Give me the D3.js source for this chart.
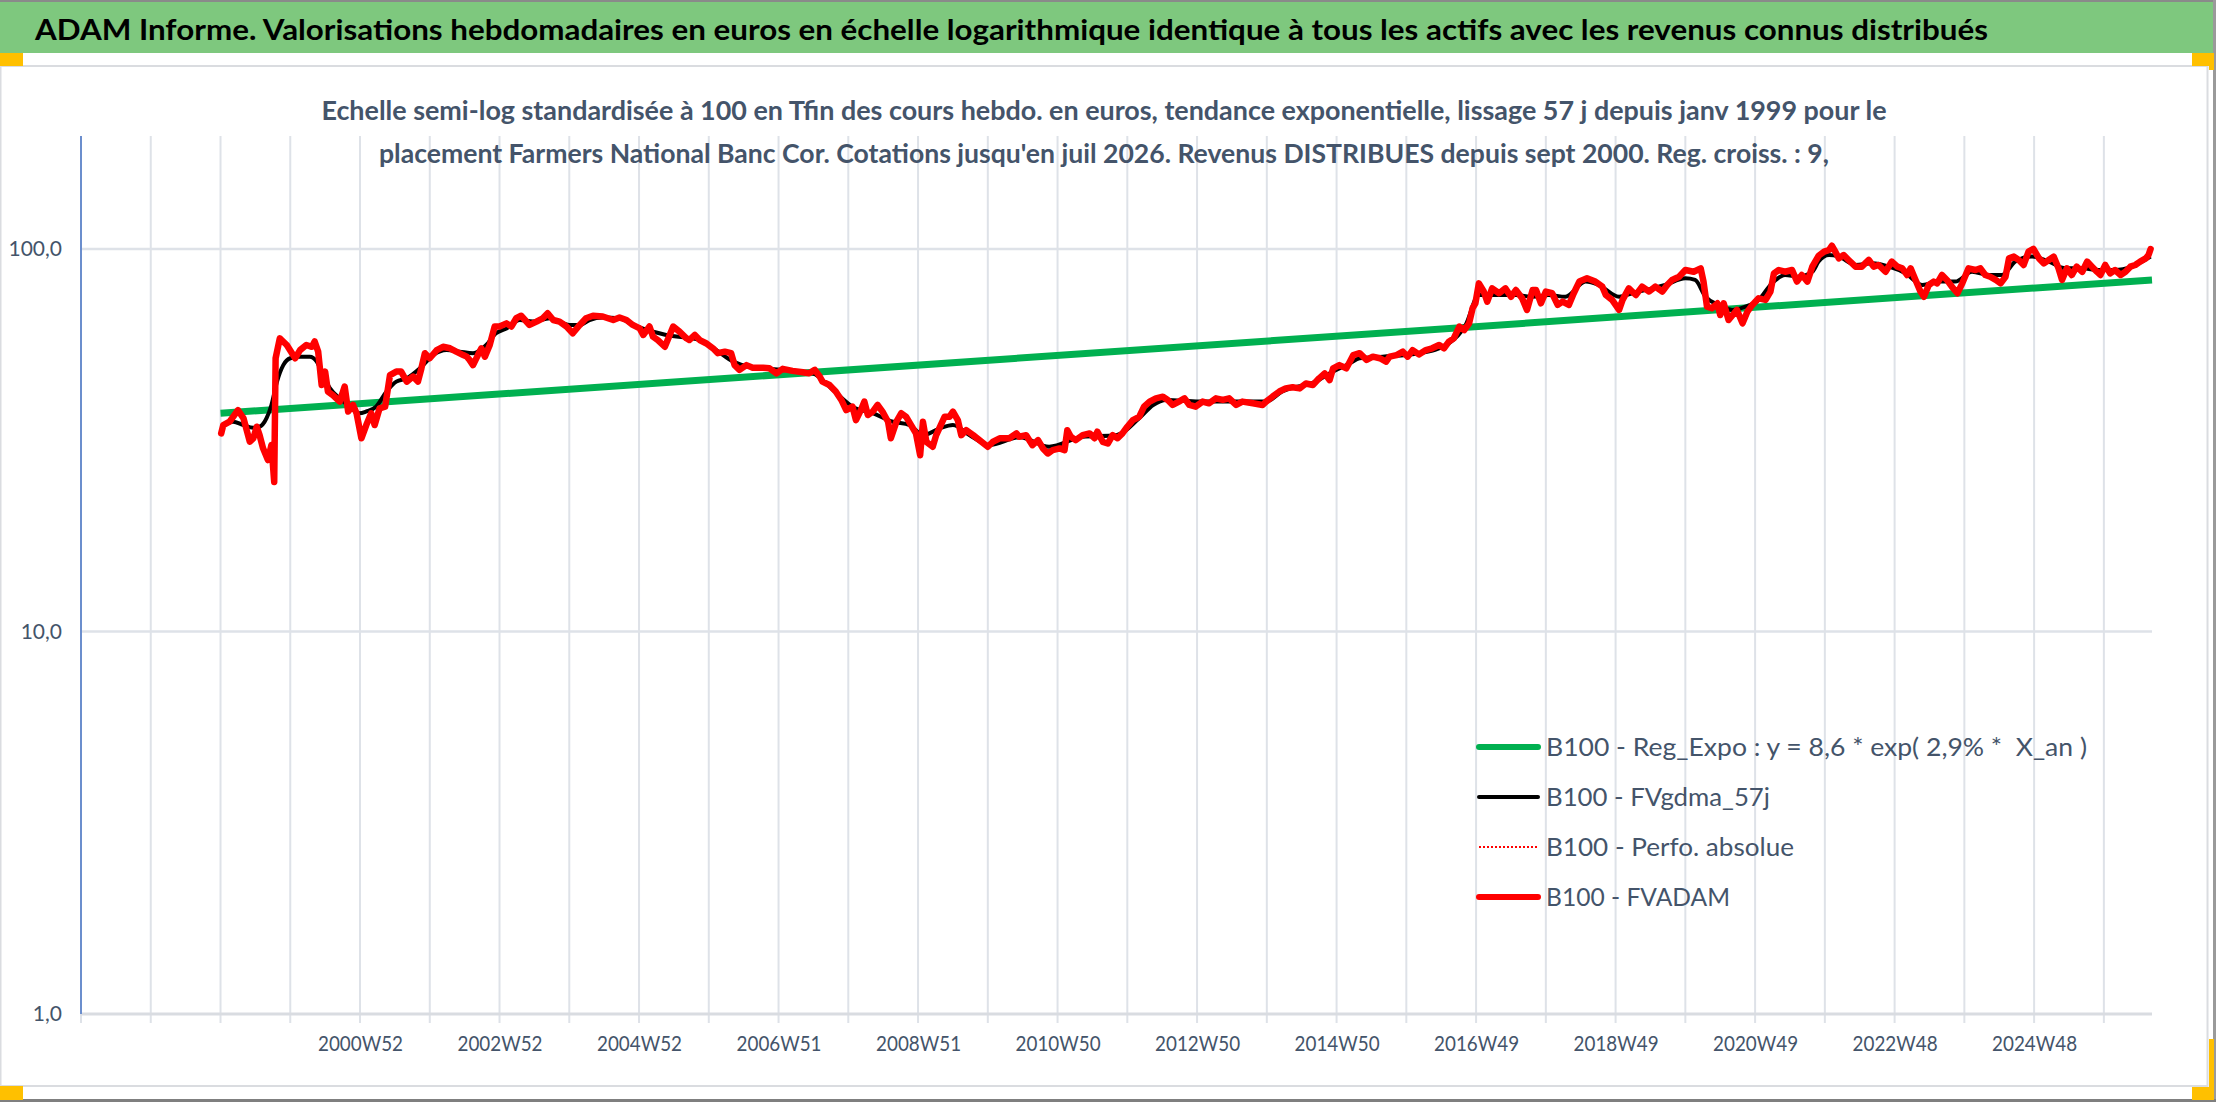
<!DOCTYPE html>
<html><head><meta charset="utf-8">
<script src="https://cdn.jsdelivr.net/npm/d3@7"></script>
<style>
body{margin:0;background:#fff;}
svg{display:block;font-family:Lato,"Noto Sans",sans-serif;}
</style>
</head><body>
<svg id="c" width="2216" height="1102"></svg>
<script>
const titleText = "ADAM Informe. Valorisations hebdomadaires en euros en échelle logarithmique identique à tous les actifs avec les revenus connus distribués";
const subtitleLines = [
  "Echelle semi-log standardisée à 100 en Tfin des cours hebdo. en euros, tendance exponentielle, lissage 57 j depuis janv 1999 pour le",
  "placement Farmers National Banc Cor. Cotations jusqu'en juil 2026. Revenus DISTRIBUES depuis sept 2000. Reg. croiss. : 9,"
];
const yTickValues = [1, 10, 100];
const yTickLabels = ["1,0", "10,0", "100,0"];
const gridYears = [1997,1998,1999,2000,2001,2002,2003,2004,2005,2006,2007,2008,2009,2010,2011,2012,2013,2014,2015,2016,2017,2018,2019,2020,2021,2022,2023,2024,2025,2026];
const xTickYears = [2001,2003,2005,2007,2009,2011,2013,2015,2017,2019,2021,2023,2025];
const xTickLabels = ["2000W52","2002W52","2004W52","2006W51","2008W51","2010W50","2012W50","2014W50","2016W49","2018W49","2020W49","2022W48","2024W48"];
const legendLabels = [
  "B100 - Reg_Expo : y = 8,6 * exp( 2,9% *  X_an )",
  "B100 - FVgdma_57j",
  "B100 - Perfo. absolue",
  "B100 - FVADAM"
];

// Regression (straight in log space): start / end
const regWeeks = [1999.0, 2026.69];
const regValues = [37.2, 83.0];

// Smoothed series FVgdma_57j
const fvgdmaWeeks = [1999.01,1999.18,1999.33,1999.47,1999.56,1999.66,1999.73,1999.81,1999.90,2000.00,2000.14,2000.28,2000.38,2000.45,2000.57,2000.71,2000.85,2000.99,2001.09,2001.23,2001.38,2001.52,2001.67,2001.86,2002.05,2002.24,2002.43,2002.62,2002.81,2002.95,2003.10,2003.29,2003.48,2003.72,2003.86,2004.00,2004.15,2004.29,2004.48,2004.72,2004.91,2005.39,2005.87,2006.10,2006.35,2006.58,2007.06,2007.49,2007.78,2008.06,2008.35,2008.64,2008.88,2009.07,2009.31,2009.50,2009.74,2010.02,2010.46,2010.88,2011.36,2011.84,2012.17,2012.37,2012.56,2013.03,2013.51,2013.99,2014.22,2014.70,2014.95,2015.19,2015.33,2015.66,2016.19,2016.61,2016.85,2017.04,2017.23,2017.57,2017.81,2018.04,2018.28,2018.57,2018.76,2019.05,2019.24,2019.71,2020.00,2020.14,2020.29,2020.48,2020.67,2020.86,2021.05,2021.24,2021.43,2021.62,2021.82,2021.91,2022.06,2022.20,2022.44,2022.68,2022.92,2023.16,2023.40,2023.64,2023.87,2024.11,2024.35,2024.54,2024.73,2024.97,2025.21,2025.45,2025.69,2025.93,2026.16,2026.40,2026.67];
const fvgdmaValues = [34.3,35.35,34.65,34.1,34.3,36.1,39.1,45.0,49.7,51.8,52.3,52.3,50.75,47.8,43.2,40.7,38.7,37.2,37.6,38.7,42.4,45.0,45.9,48.75,52.8,54.4,53.9,53.4,56.1,60.2,62.0,65.2,64.6,65.9,64.6,63.3,63.3,65.2,66.2,65.9,63.3,59.6,57.8,54.5,50.75,49.2,48.3,47.3,42.8,38.7,37.2,35.35,34.65,32.6,33.96,34.65,32.6,30.7,32.2,30.4,32.3,32.6,36.1,39.1,40.3,39.9,39.9,39.9,42.4,45.0,47.8,50.2,51.8,52.3,53.4,56.7,63.3,75.8,75.8,75.8,75.0,75.8,75.0,82.2,80.5,75.0,76.6,80.5,83.8,83.0,75.0,71.4,69.3,70.7,73.6,81.3,85.5,84.6,87.2,92.7,96.4,95.5,90.8,91.7,89.9,86.3,80.5,82.2,82.2,87.2,85.5,85.5,92.7,95.5,92.7,89.0,89.0,88.1,88.1,89.9,95.5];

// FVADAM series
const fvadamWeeks = [1999.01,1999.04,1999.13,1999.25,1999.33,1999.42,1999.47,1999.52,1999.56,1999.61,1999.68,1999.73,1999.77,1999.79,1999.85,1999.95,2000.07,2000.14,2000.23,2000.31,2000.35,2000.40,2000.45,2000.50,2000.54,2000.61,2000.71,2000.78,2000.83,2000.90,2000.95,2001.02,2001.09,2001.16,2001.21,2001.28,2001.36,2001.43,2001.52,2001.59,2001.67,2001.76,2001.83,2001.88,2001.93,2002.00,2002.10,2002.19,2002.29,2002.38,2002.48,2002.53,2002.57,2002.62,2002.69,2002.74,2002.79,2002.86,2002.93,2003.00,2003.10,2003.17,2003.24,2003.31,2003.43,2003.53,2003.62,2003.69,2003.77,2003.86,2003.96,2004.05,2004.15,2004.24,2004.34,2004.48,2004.63,2004.72,
2004.82,2004.91,2005.01,2005.06,2005.15,2005.20,2005.27,2005.37,2005.44,2005.49,2005.58,2005.68,2005.72,2005.80,2005.87,2005.96,2006.06,2006.13,2006.23,2006.32,2006.37,2006.44,2006.54,2006.63,2006.78,2006.87,2006.97,2007.06,2007.20,2007.35,2007.44,2007.52,2007.59,2007.63,2007.73,2007.82,2007.90,2007.97,2008.06,2008.11,2008.18,2008.23,2008.28,2008.35,2008.42,2008.49,2008.57,2008.61,2008.69,2008.76,2008.83,2008.90,2008.97,2009.03,2009.07,2009.12,2009.21,2009.26,2009.38,2009.45,2009.50,2009.57,2009.62,2009.69,2009.79,2009.88,2010.00,2010.07,2010.17,2010.31,2010.41,
2010.45,2010.55,2010.64,2010.72,2010.79,2010.86,2010.93,2011.03,2011.10,2011.14,2011.19,2011.26,2011.36,2011.46,2011.53,2011.57,2011.65,2011.72,2011.79,2011.86,2011.93,2012.00,2012.08,2012.17,2012.24,2012.32,2012.41,2012.51,2012.58,2012.65,2012.74,2012.82,2012.89,2012.98,2013.08,2013.17,2013.27,2013.37,2013.46,2013.56,2013.65,2013.80,2013.94,2013.99,2014.08,2014.18,2014.27,2014.37,2014.47,2014.56,2014.66,2014.75,2014.83,2014.90,2014.95,2015.04,2015.14,2015.19,2015.24,2015.33,2015.43,2015.52,2015.62,2015.71,2015.76,2015.86,2015.95,2016.02,2016.09,2016.18,
2016.28,2016.37,2016.47,2016.54,2016.61,2016.68,2016.76,2016.83,2016.90,2016.95,2016.99,2017.04,2017.11,2017.16,2017.23,2017.33,2017.42,2017.50,2017.57,2017.66,2017.73,2017.81,2017.86,2017.93,2018.00,2018.09,2018.17,2018.24,2018.33,2018.40,2018.48,2018.59,2018.71,2018.81,2018.86,2018.95,2019.05,2019.10,2019.19,2019.29,2019.38,2019.48,2019.57,2019.67,2019.74,2019.81,2019.91,2020.00,2020.12,2020.22,2020.26,2020.31,2020.38,2020.46,2020.50,2020.55,2020.62,2020.70,2020.74,2020.82,2020.89,2020.96,2021.05,2021.15,2021.22,2021.27,2021.34,2021.43,2021.53,2021.60,2021.67,2021.75,2021.82,2021.91,
2021.99,2022.06,2022.10,2022.15,2022.20,2022.27,2022.34,2022.44,2022.53,2022.63,2022.70,2022.77,2022.87,2022.96,2023.04,2023.11,2023.18,2023.23,2023.30,2023.37,2023.42,2023.49,2023.56,2023.61,2023.68,2023.75,2023.82,2023.90,2023.97,2024.06,2024.16,2024.23,2024.30,2024.37,2024.45,2024.52,2024.59,2024.64,2024.71,2024.78,2024.85,2024.92,2024.99,2025.07,2025.14,2025.21,2025.28,2025.35,2025.40,2025.47,2025.54,2025.61,2025.69,2025.76,2025.83,2025.90,2025.95,2026.02,2026.09,2026.16,2026.24,2026.31,2026.38,2026.45,2026.52,2026.60,2026.64,2026.67];
const fvadamValues = [32.95,34.65,35.35,37.9,36.07,31.34,31.97,34.3,32.62,30.11,28.06,30.72,24.6,51.8,58.4,56.1,51.8,54.4,56.1,55.5,57.3,53.9,44.1,47.8,42.4,41.5,39.9,43.7,37.6,39.1,37.2,32.0,34.65,37.2,34.65,38.3,38.7,46.8,47.8,47.8,45.0,46.4,45.0,48.75,53.4,51.8,54.4,55.5,55.0,53.9,52.8,52.3,51.3,49.7,52.8,55.0,52.3,56.1,62.7,62.7,63.9,62.7,65.9,66.9,63.3,64.6,65.9,67.9,65.2,64.6,62.7,60.2,63.3,65.9,66.9,66.6,65.2,66.2,
65.2,63.3,62.0,59.6,62.7,59.0,57.8,55.5,59.6,62.7,60.8,58.4,57.8,59.6,57.8,56.7,55.0,53.4,53.9,53.4,49.7,48.3,49.7,48.9,48.9,48.75,47.3,48.6,48.0,47.6,47.3,48.3,46.4,45.0,44.1,42.4,40.3,37.9,38.7,35.7,37.9,39.9,36.8,37.55,39.1,37.55,35.35,32.0,35.35,37.2,36.4,34.65,32.95,28.9,35.35,31.3,30.4,32.6,36.4,36.4,37.55,35.7,32.6,33.6,32.6,31.65,30.4,31.3,32.0,32.0,32.95,
32.3,32.6,30.7,31.65,30.1,29.2,29.8,30.1,29.8,33.6,32.3,31.65,32.6,32.95,32.0,33.3,31.3,31.0,32.6,32.0,32.95,34.3,35.7,36.4,38.7,39.9,40.7,41.1,40.3,39.1,39.9,40.7,39.1,38.7,39.9,39.5,40.7,40.3,40.7,39.1,39.9,39.5,39.1,39.9,41.1,42.4,43.2,43.5,43.2,44.5,44.1,45.9,47.3,45.4,48.75,49.7,48.75,50.75,52.8,53.4,51.3,52.3,51.8,50.75,52.3,52.8,53.9,52.3,54.4,53.0,
54.4,55.0,56.1,55.0,57.25,58.4,62.7,61.4,63.9,70.0,72.1,81.3,77.4,72.85,78.9,76.6,78.9,75.0,78.1,74.3,69.3,78.1,78.1,72.1,77.4,76.6,71.4,72.85,71.4,76.6,82.2,83.8,82.2,79.7,75.8,73.6,69.3,73.6,78.9,75.8,79.7,77.4,79.7,77.4,80.5,83.0,84.6,88.1,87.2,89.0,82.2,70.7,70.0,72.1,67.2,72.1,65.2,67.9,69.3,63.9,68.6,71.4,74.3,73.6,77.4,86.3,88.1,87.2,88.1,82.2,85.5,82.2,89.9,96.0,
98.4,99.4,102.0,98.4,94.5,96.4,93.6,89.9,89.9,93.6,89.9,90.8,87.2,92.7,89.9,89.0,85.5,89.0,83.0,77.4,75.0,80.5,82.2,81.3,85.5,83.0,79.7,76.6,81.3,89.0,88.1,89.0,85.5,84.6,83.0,81.3,84.6,94.5,95.5,93.6,90.8,98.4,100,94.5,91.7,93.6,95.5,89.0,83.0,89.0,85.5,89.9,87.2,92.7,89.9,87.2,85.5,90.8,86.3,88.1,85.5,87.2,89.9,90.8,92.7,94.5,96.4,100];

const svg = d3.select("#c");
const W = 2216, H = 1102;
const plot = {left: 81, right: 2152, top: 136, bottom: 1014};
const textCol = "#44546A";
const gridCol = "#DEE2E8";
const orange = "#FFC000";

// Frame / background
svg.append("rect").attr("width", W).attr("height", H).attr("fill", "#fff");
svg.append("rect").attr("x", 0.5).attr("y", 66).attr("width", 2207).attr("height", 1020)
  .attr("fill", "#fff").attr("stroke", "#DADCE0").attr("stroke-width", 2);
svg.append("rect").attr("x", 0).attr("y", 0).attr("width", 2213).attr("height", 2).attr("fill", "#8a8a8a");
svg.append("rect").attr("x", 0).attr("y", 2).attr("width", 2213).attr("height", 51).attr("fill", "#7EC87E");
svg.append("rect").attr("x", 2213).attr("y", 0).attr("width", 3).attr("height", H).attr("fill", "#9a9a9a");
svg.append("rect").attr("x", 0).attr("y", 1099).attr("width", W).attr("height", 3).attr("fill", "#7f7f7f");
// selection handles
[[0,53,23,13],[2192,53,22,13],[2209,53,5,17],[0,1086,23,14],[2192,1087,21,13],[2209,1039,5,61]].forEach(r =>
  svg.append("rect").attr("x", r[0]).attr("y", r[1]).attr("width", r[2]).attr("height", r[3]).attr("fill", orange));

// Title
svg.append("text").attr("x", 35).attr("y", 40).attr("font-size", 29).attr("font-weight", "bold")
  .attr("fill", "#000").attr("textLength", 1953).attr("lengthAdjust", "spacingAndGlyphs").text(titleText);

// Scales
const x = d3.scaleLinear().domain([1997, 2026.69]).range([plot.left, plot.right]);
const y = d3.scaleLog().domain([1, 197.4]).range([plot.bottom, plot.top]);

// Vertical gridlines + ticks
const g = svg.append("g");
g.selectAll("line.vg").data(gridYears).join("line").attr("class", "vg")
  .attr("x1", d => x(d)).attr("x2", d => x(d)).attr("y1", plot.top).attr("y2", plot.bottom + 9)
  .attr("stroke", gridCol).attr("stroke-width", 2);
// Horizontal gridlines
g.selectAll("line.hg").data(yTickValues.filter(v => v > 1)).join("line").attr("class", "hg")
  .attr("x1", plot.left).attr("x2", plot.right).attr("y1", d => y(d)).attr("y2", d => y(d))
  .attr("stroke", gridCol).attr("stroke-width", 2.5);
// Bottom axis line
g.append("line").attr("x1", plot.left).attr("x2", plot.right).attr("y1", plot.bottom).attr("y2", plot.bottom)
  .attr("stroke", "#D9DCE1").attr("stroke-width", 3);
// Left axis line
g.append("line").attr("x1", plot.left).attr("x2", plot.left).attr("y1", plot.top).attr("y2", plot.bottom)
  .attr("stroke", "#4472C4").attr("stroke-width", 1.5);

// Subtitle (drawn over gridlines)
const subBase = [120, 163], subLen = [1565, 1450];
subtitleLines.forEach((s, i) => {
  svg.append("text").attr("x", 1104).attr("y", subBase[i]).attr("text-anchor", "middle")
    .attr("font-size", 27).attr("font-weight", "bold").attr("fill", textCol)
    .attr("textLength", subLen[i]).attr("lengthAdjust", "spacingAndGlyphs").text(s);
});

// Y labels via axis
const yAxis = d3.axisLeft(y).tickValues(yTickValues).tickSize(0).tickPadding(0)
  .tickFormat((d, i) => yTickLabels[i]);
const ya = svg.append("g").attr("transform", `translate(${plot.left - 19},0)`).call(yAxis);
ya.select(".domain").remove();
ya.selectAll("text").attr("font-size", 21).attr("fill", textCol).attr("font-family", "Lato, 'Noto Sans', sans-serif");

// X labels via axis
const xAxis = d3.axisBottom(x).tickValues(xTickYears).tickSize(0).tickPadding(0)
  .tickFormat((d, i) => xTickLabels[i]);
const xa = svg.append("g").attr("transform", `translate(0,${plot.bottom + 22})`).call(xAxis);
xa.select(".domain").remove();
xa.selectAll("text").attr("font-size", 21).attr("fill", textCol).attr("font-family", "Lato, 'Noto Sans', sans-serif")
  .attr("textLength", 85).attr("lengthAdjust", "spacingAndGlyphs");

// Series
const regData = regWeeks.map((t, i) => [t, regValues[i]]);
const gdmaData = fvgdmaWeeks.map((t, i) => [t, fvgdmaValues[i]]);
const adamData = fvadamWeeks.map((t, i) => [t, fvadamValues[i]]);

svg.append("path").datum(regData).attr("d", d3.line().x(d => x(d[0])).y(d => y(d[1]))).attr("fill", "none")
  .attr("stroke", "#00B050").attr("stroke-width", 7);
svg.append("path").datum(gdmaData).attr("d", d3.line().x(d => x(d[0])).y(d => y(d[1])).curve(d3.curveMonotoneX)).attr("fill", "none")
  .attr("stroke", "#000").attr("stroke-width", 4).attr("stroke-linejoin", "round");
svg.append("path").datum(adamData).attr("d", d3.line().x(d => x(d[0])).y(d => y(d[1]))).attr("fill", "none")
  .attr("stroke", "#FF0000").attr("stroke-width", 6.5).attr("stroke-linejoin", "round").attr("stroke-linecap", "round");

// Legend
const legStyles = [
  {c: "#00B050", w: 6, dash: null, cap: "round"},
  {c: "#000000", w: 4, dash: null, cap: "round"},
  {c: "#FF0000", w: 2, dash: "2,2", cap: "butt"},
  {c: "#FF0000", w: 6, dash: null, cap: "round"}
];
const legLen = [541, 224, 248, 184];
legendLabels.forEach((lab, i) => {
  const yy = 747 + 50 * i;
  const st = legStyles[i];
  const ln = svg.append("line").attr("x1", 1479).attr("x2", 1538).attr("y1", yy).attr("y2", yy)
    .attr("stroke", st.c).attr("stroke-width", st.w).attr("stroke-linecap", st.cap);
  if (st.dash) ln.attr("stroke-dasharray", st.dash);
  svg.append("text").attr("x", 1546).attr("y", yy).attr("dy", "0.36em").attr("font-size", 25)
    .style("white-space", "pre").attr("xml:space", "preserve")
    .attr("fill", textCol).attr("textLength", legLen[i]).attr("lengthAdjust", "spacingAndGlyphs").text(lab);
});
</script>
</body></html>
